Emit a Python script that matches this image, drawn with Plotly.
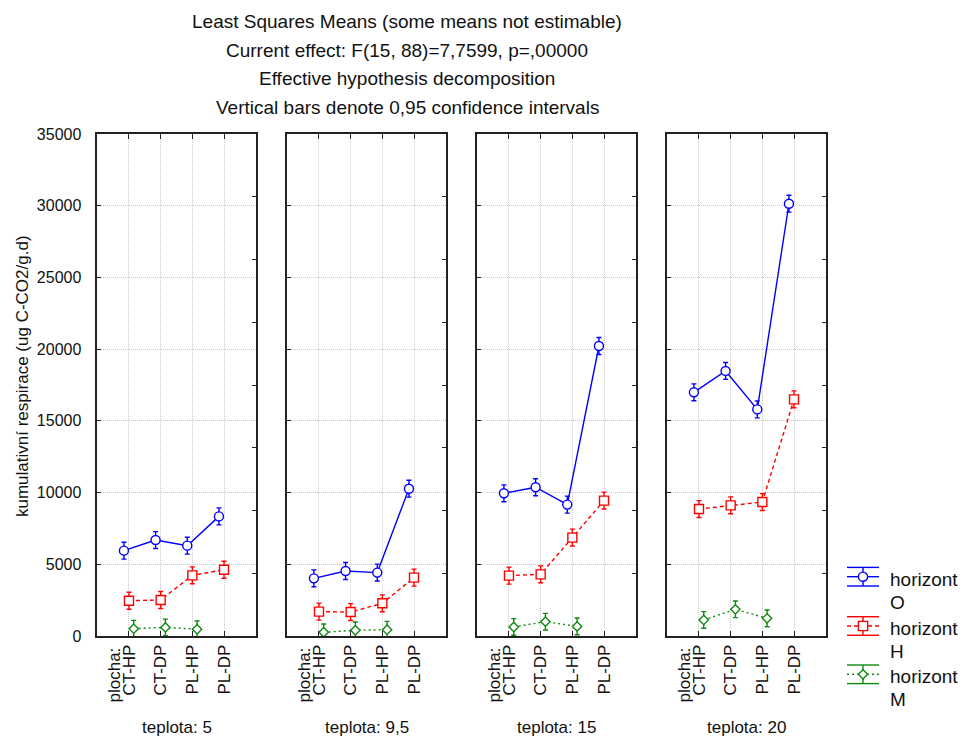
import plotly.graph_objects as go

W, H = 965, 738

# ---- data -------------------------------------------------------------
categories = ["CT-HP", "CT-DP", "PL-HP", "PL-DP"]
factor_label = "plocha:"
teplota = ["5", "9,5", "15", "20"]
series_names = ["O", "H", "M"]

# least squares means, one row per temperature panel
horizont_O = [
    [5950, 6690, 6300, 8340],
    [4020, 4530, 4420, 10270],
    [9950, 10370, 9160, 20220],
    [16990, 18480, 15800, 30140],
]
horizont_H = [
    [2460, 2510, 4230, 4620],
    [1700, 1670, 2280, 4070],
    [4210, 4300, 6860, 9440],
    [8850, 9110, 9340, 16500],
]
horizont_M = [
    [510, 600, 470, None],
    [260, 400, 440, None],
    [630, 1000, 670, None],
    [1120, 1860, 1230, None],
]

# half-widths of the 0.95 confidence intervals
ci_O = [
    [590, 590, 590, 590],
    [590, 590, 590, 590],
    [590, 590, 590, 590],
    [590, 590, 590, 590],
]
ci_H = [
    [590, 590, 590, 590],
    [590, 590, 590, 590],
    [590, 590, 590, 590],
    [590, 590, 590, 590],
]
ci_M = [
    [580, 580, 580, None],
    [580, 580, 580, None],
    [580, 580, 580, None],
    [580, 580, 580, None],
]

Y_MAX = 35000

# ---- styling ------------------------------------------------------------
FONT = "Liberation Sans, Arial, sans-serif"
styles = [
    dict(color="#0000ff", dash="solid", symbol="circle", size=9, offset=-0.16),
    dict(color="#ff0000", dash="4px,3px", symbol="square", size=9, offset=0.0),
    dict(color="#118811", dash="2px,3px", symbol="diamond", size=7.2, offset=0.15),
]
means = [horizont_O, horizont_H, horizont_M]
cis = [ci_O, ci_H, ci_M]


def px(x):
    return x / W


def py(y):
    return 1 - y / H


PANEL_LEFT = 97.3
PANEL_W = 158.4
PANEL_STEP = 190.0
TOP, BOTTOM = 134.0, 636.0

fig = go.Figure()
layout = dict(
    width=W,
    height=H,
    margin=dict(l=0, r=0, t=0, b=0),
    paper_bgcolor="white",
    plot_bgcolor="white",
    showlegend=False,
    font=dict(family=FONT, color="#111111", size=16),
)

grid = dict(showgrid=True, gridcolor="#c8c8c8", griddash="1px,1px", gridwidth=1)

annotations = []
shapes = []

for p in range(4):
    n = p + 1
    xa = "x" if n == 1 else f"x{n}"
    ya = "y" if n == 1 else f"y{n}"
    x0 = PANEL_LEFT + PANEL_STEP * p
    layout[f"xaxis{n if n > 1 else ''}"] = dict(
        domain=[px(x0), px(x0 + PANEL_W)],
        anchor=ya,
        range=[0, 5],
        tickmode="array",
        tickvals=[1, 2, 3, 4],
        ticktext=categories,
        tickangle=-90,
        ticks="inside",
        ticklen=5,
        tickcolor="#222",
        showline=True,
        linecolor="#222",
        linewidth=1.5,
        mirror="ticks",
        zeroline=False,
        tickfont=dict(size=17, family=FONT, color="#111"),
        automargin=False,
        **grid,
    )
    layout[f"yaxis{n if n > 1 else ''}"] = dict(
        domain=[py(BOTTOM), py(TOP)],
        anchor=xa,
        range=[0, Y_MAX],
        dtick=5000,
        tick0=0,
        tickformat="d",
        ticks="inside",
        ticklen=4,
        tickcolor="#222",
        showline=True,
        linecolor="#222",
        linewidth=1.5,
        mirror=True,
        zeroline=False,
        showticklabels=(p == 0),
        tickfont=dict(size=16, family=FONT, color="#111"),
        ticklabelstandoff=11,
        automargin=False,
        **grid,
    )
    # right-hand inner ticks dividing the axis in eight parts
    layout[f"yaxis{n + 4}"] = dict(
        overlaying=ya,
        anchor=xa,
        side="right",
        range=[0, Y_MAX],
        tickmode="array",
        tickvals=[k * Y_MAX / 8 for k in range(1, 8)],
        ticks="inside",
        ticklen=4,
        tickcolor="#222",
        showticklabels=False,
        showgrid=False,
        showline=False,
        zeroline=False,
    )
    fig.add_trace(go.Scatter(x=[None], y=[None], xaxis=xa, yaxis=f"y{n + 4}",
                             showlegend=False, hoverinfo="skip"))

    # factor name printed beside the first category label
    annotations.append(dict(
        text=factor_label, x=1, y=py(645.5), xref=xa, yref="paper",
        xshift=-14.5, xanchor="center", yanchor="top", textangle=-90,
        showarrow=False, font=dict(size=17, family=FONT, color="#111"),
    ))

    for s, st in enumerate(styles):
        xs = [i + 1 + st["offset"] for i in range(len(categories))]
        fig.add_trace(go.Scatter(
            x=xs,
            y=means[s][p],
            xaxis=xa,
            yaxis=ya,
            mode="lines+markers",
            name=f"horizont {series_names[s]}",
            line=dict(color=st["color"], width=1.4, dash=st["dash"]),
            marker=dict(symbol=st["symbol"], size=st["size"], color="white",
                        line=dict(color=st["color"], width=1.4)),
            error_y=dict(type="data", array=cis[s][p], symmetric=True,
                         color=st["color"], thickness=1.4, width=2.5),
            connectgaps=False,
            showlegend=False,
        ))

# title block
title_lines = [
    "Least Squares Means (some means not estimable)",
    "Current effect: F(15, 88)=7,7599, p=,00000",
    "Effective hypothesis decomposition",
    "Vertical bars denote 0,95 confidence intervals",
]
for i, t in enumerate(title_lines):
    annotations.append(dict(
        text=t, x=px(407), y=py(21.5 + 28.7 * i), xref="paper", yref="paper",
        xanchor="center", yanchor="middle", showarrow=False,
        font=dict(size=19, family=FONT, color="#111"),
    ))

# y-axis title
annotations.append(dict(
    text="kumulativní respirace (ug C-CO2/g.d)", x=px(22), y=py(376),
    xref="paper", yref="paper", xanchor="center", yanchor="middle",
    textangle=-90, showarrow=False, font=dict(size=17, family=FONT, color="#111"),
))

# panel captions
for p, t in enumerate(teplota):
    cx = PANEL_LEFT + PANEL_STEP * p + PANEL_W / 2
    annotations.append(dict(
        text=f"teplota: {t}", x=px(cx), y=py(727), xref="paper", yref="paper",
        xanchor="center", yanchor="middle", showarrow=False,
        font=dict(size=17, family=FONT, color="#111"),
    ))

# legend
LX0, LX1 = 847, 879
LXC = (LX0 + LX1) / 2
legend_y = [576.7, 626.0, 674.3]
for s, st in enumerate(styles):
    cy = legend_y[s]
    c = st["color"]
    shapes.append(dict(type="line", xref="paper", yref="paper",
                       x0=px(LX0), x1=px(LX1), y0=py(cy), y1=py(cy),
                       line=dict(color=c, width=1.4, dash=st["dash"])))
    for dy in (-9.3, 9.3):
        shapes.append(dict(type="line", xref="paper", yref="paper",
                           x0=px(LX0), x1=px(LX1), y0=py(cy + dy), y1=py(cy + dy),
                           line=dict(color=c, width=1.4)))
    shapes.append(dict(type="line", xref="paper", yref="paper",
                       x0=px(LXC), x1=px(LXC), y0=py(cy - 9.3), y1=py(cy + 9.3),
                       line=dict(color=c, width=1.4)))
    r = 4.6
    if st["symbol"] == "circle":
        shapes.append(dict(type="circle", xref="paper", yref="paper",
                           x0=px(LXC - r), x1=px(LXC + r), y0=py(cy - r), y1=py(cy + r),
                           fillcolor="white", line=dict(color=c, width=1.4)))
    elif st["symbol"] == "square":
        shapes.append(dict(type="rect", xref="paper", yref="paper",
                           x0=px(LXC - r), x1=px(LXC + r), y0=py(cy - r), y1=py(cy + r),
                           fillcolor="white", line=dict(color=c, width=1.4)))
    else:
        path = (f"M {px(LXC - r)} {py(cy)} L {px(LXC)} {py(cy - r)} "
                f"L {px(LXC + r)} {py(cy)} L {px(LXC)} {py(cy + r)} Z")
        shapes.append(dict(type="path", xref="paper", yref="paper", path=path,
                           fillcolor="white", line=dict(color=c, width=1.4)))
    annotations.append(dict(
        text="horizont", x=px(888), y=py(cy + 2.3), xref="paper", yref="paper",
        xanchor="left", yanchor="middle", showarrow=False,
        font=dict(size=19, family=FONT, color="#111"),
    ))
    annotations.append(dict(
        text=series_names[s], x=px(888), y=py(cy + 25.3), xref="paper", yref="paper",
        xanchor="left", yanchor="middle", showarrow=False,
        font=dict(size=19, family=FONT, color="#111"),
    ))

layout["annotations"] = annotations
layout["shapes"] = shapes
fig.update_layout(**layout)

fig.write_html("out.html")
